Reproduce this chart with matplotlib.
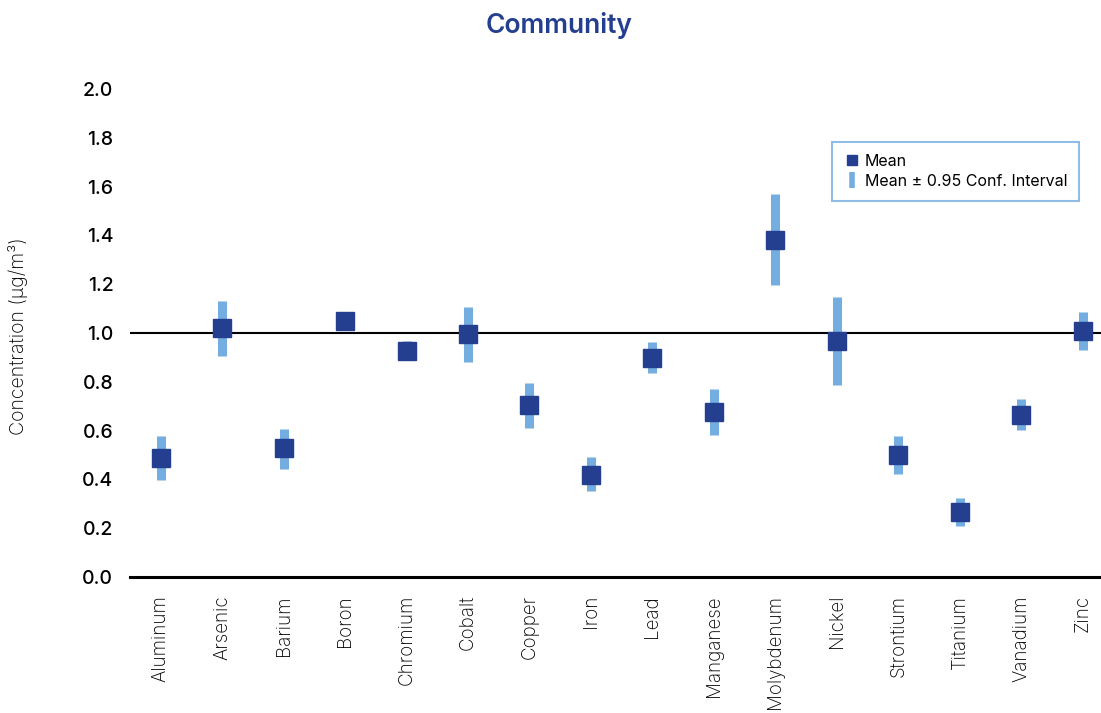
import matplotlib
matplotlib.use('Agg')
import matplotlib.pyplot as plt
from matplotlib.lines import Line2D

plt.rcParams['font.family'] = ['Inter', 'DejaVu Sans']

metals = ['Aluminum', 'Arsenic', 'Barium', 'Boron', 'Chromium', 'Cobalt', 'Copper', 'Iron',
          'Lead', 'Manganese', 'Molybdenum', 'Nickel', 'Strontium', 'Titanium', 'Vanadium', 'Zinc']
mean = [0.488, 1.022, 0.530, 1.050, 0.926, 0.996, 0.705, 0.418,
        0.898, 0.676, 1.381, 0.967, 0.500, 0.266, 0.664, 1.008]
ci_low = [0.398, 0.906, 0.443, 1.043, 0.889, 0.881, 0.612, 0.352,
          0.836, 0.582, 1.197, 0.787, 0.423, 0.209, 0.602, 0.930]
ci_high = [0.578, 1.131, 0.607, 1.057, 0.967, 1.107, 0.795, 0.492,
           0.963, 0.770, 1.570, 1.148, 0.578, 0.324, 0.730, 1.086]

dark = '#243f8f'
light = '#74addf'

fig = plt.figure(figsize=(11.01, 7.13), dpi=100)
ax = fig.add_axes([130 / 1101, 136 / 713, 971 / 1101, 488 / 713])

x = list(range(len(metals)))
ax.axhline(1.0, color='black', lw=1.5, zorder=1)
ax.vlines(x, ci_low, ci_high, color=light, lw=6.5, zorder=2)
ax.plot(x, mean, 's', color=dark, ms=12.5, zorder=3)

ax.set_xlim(-0.5, 15.3)
ax.set_ylim(0, 2.0)
ax.set_yticks([i / 5 for i in range(11)])
ax.set_yticklabels([f'{i / 5:.1f}' for i in range(11)], fontsize=14, fontweight='medium')
ax.set_xticks(x)
ax.set_xticklabels(metals, rotation=90, fontsize=13.5, fontweight='light')
ax.tick_params(axis='y', length=0, pad=12)
ax.tick_params(axis='x', length=0, pad=13)

for side in ['top', 'right', 'left']:
    ax.spines[side].set_visible(False)
ax.spines['bottom'].set_linewidth(2.2)
ax.spines['bottom'].set_color('black')

# axis title and chart title placed in figure coordinates
fig.text(18 / 1101, 1 - 336 / 713, 'Concentration (µg/m³)', rotation=90,
         ha='center', va='center', fontsize=14, fontweight='light')
fig.text(0.508, 1 - 33 / 713, 'Community', ha='center', va='baseline', fontsize=19,
         fontweight='semibold', color=dark)

handles = [
    Line2D([], [], marker='s', ls='none', color=dark, ms=7),
    Line2D([], [], marker='|', ls='none', color=light, ms=12, mew=4),
]
leg = ax.legend(handles, ['Mean', 'Mean ± 0.95 Conf. Interval'], loc='upper left',
                bbox_to_anchor=(694 / 971, (577 - 134) / 488),
                fontsize=11.5, frameon=True, fancybox=False, handletextpad=0.3,
                handlelength=1.0, borderpad=0.75, labelspacing=0.3)
leg.get_frame().set_edgecolor(light)
leg.get_frame().set_linewidth(1.5)

fig.savefig('out.png', dpi=100)
